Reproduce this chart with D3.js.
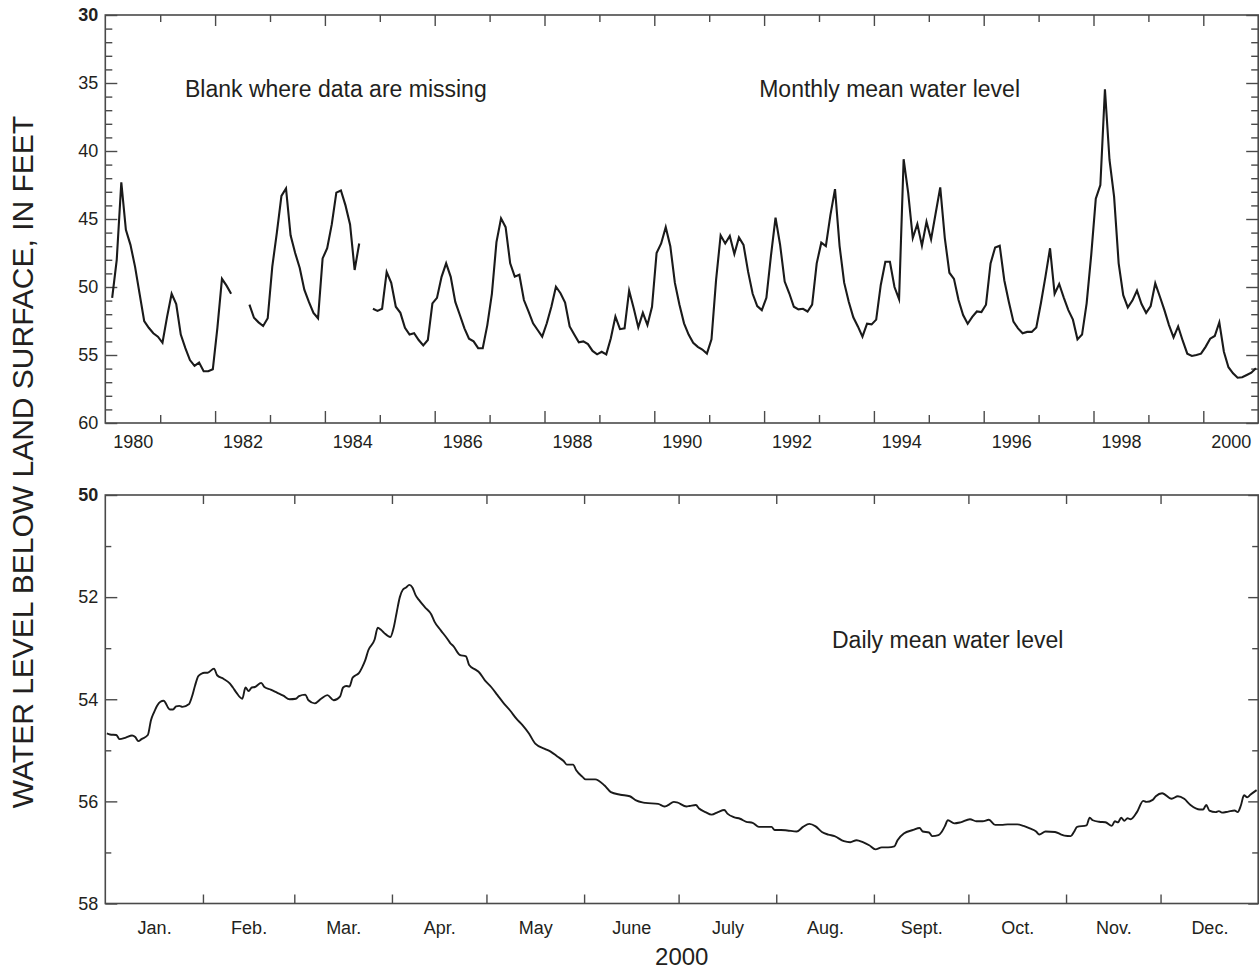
<!DOCTYPE html>
<html>
<head>
<meta charset="utf-8">
<script src="https://cdn.jsdelivr.net/npm/d3@7"></script>
<style>
  body { margin: 0; background: #fff; }
  svg text { font-family: "Liberation Sans", Arial, Helvetica, sans-serif; fill: #231f20; }
</style>
</head>
<body>
<svg id="chart" width="1260" height="976"></svg>
<script>
// ---- Monthly mean water level, Jan 1980 – Dec 2000 (feet below land surface; null = no record)
const monthlyStartYear = 1980;
const monthlyLevel = [
  // 1980
  null, 50.8, 48.0, 42.3, 45.8, 46.9, 48.5, 50.5, 52.5, 53.0, 53.4, 53.65,
  // 1981
  54.1, 52.2, 50.5, 51.25, 53.5, 54.5, 55.37, 55.8, 55.56, 56.2, 56.2, 56.05,
  // 1982
  53.0, 49.4, 49.9, 50.5, null, null, null, 51.3, 52.26, 52.6, 52.87, 52.3,
  // 1983
  48.5, 46.0, 43.3, 42.75, 46.2, 47.5, 48.6, 50.2, 51.1, 51.9, 52.3, 47.9,
  // 1984
  47.15, 45.4, 43.06, 42.9, 44.0, 45.4, 48.75, 46.8, null, null, 51.6, 51.76,
  // 1985
  51.6, 48.9, 49.7, 51.45, 51.9, 53.0, 53.5, 53.4, 53.9, 54.3, 53.9, 51.2,
  // 1986
  50.8, 49.25, 48.26, 49.25, 51.1, 52.06, 53.04, 53.8, 54.0, 54.5, 54.5, 52.8,
  // 1987
  50.5, 46.7, 44.95, 45.6, 48.26, 49.24, 49.1, 50.96, 51.8, 52.67, 53.16, 53.65,
  // 1988
  52.67, 51.45, 49.98, 50.46, 51.15, 52.9, 53.5, 54.07, 54.0, 54.2, 54.7, 54.95,
  // 1989
  54.76, 54.95, 53.77, 52.18, 53.1, 53.04, 50.27, 51.57, 52.97, 51.9, 52.8, 51.45,
  // 1990
  47.5, 46.8, 45.6, 47.0, 49.7, 51.3, 52.67, 53.5, 54.1, 54.4, 54.6, 54.9,
  // 1991
  53.85, 49.5, 46.2, 46.8, 46.25, 47.57, 46.35, 46.9, 48.87, 50.5, 51.4, 51.7,
  // 1992
  50.8, 47.7, 44.9, 46.9, 49.6, 50.46, 51.45, 51.64, 51.6, 51.8, 51.3, 48.26,
  // 1993
  46.74, 46.99, 44.7, 42.8, 46.99, 49.68, 51.08, 52.23, 52.9, 53.65, 52.7, 52.75,
  // 1994
  52.4, 49.85, 48.14, 48.14, 50.0, 50.9, 40.6, 43.1, 46.4, 45.37, 46.96, 45.2,
  // 1995
  46.5, 44.58, 42.67, 46.4, 48.95, 49.4, 50.96, 52.06, 52.7, 52.2, 51.8, 51.85,
  // 1996
  51.3, 48.26, 47.1, 46.96, 49.5, 51.1, 52.55, 53.04, 53.4, 53.3, 53.3, 52.97,
  // 1997
  51.2, 49.24, 47.15, 50.5, 49.78, 50.78, 51.7, 52.4, 53.85, 53.5, 51.2, 47.65,
  // 1998
  43.5, 42.5, 35.46, 40.66, 43.36, 48.26, 50.6, 51.5, 51.0, 50.27, 51.25, 51.9,
  // 1999
  51.4, 49.73, 50.7, 51.7, 52.8, 53.7, 52.9, 53.95, 54.9, 55.07, 55.0, 54.9,
  // 2000
  54.4, 53.8, 53.6, 52.6, 54.76, 55.9, 56.35, 56.67, 56.64, 56.47, 56.3, 55.98
];

// ---- Daily mean water level, 2000 (day of year, 0 = Jan 1)
const dailyDay = [
  0, 1, 3, 4, 6, 8, 9, 10, 11, 13, 14, 15, 16, 17, 18, 20, 21, 22, 23, 24,
  26, 27, 28, 29, 30, 31, 32, 34, 35, 37, 39, 40, 41, 43, 44, 45, 46, 47, 49, 50,
  52, 54, 56, 58, 60, 61, 63, 64, 66, 68, 70, 72, 74, 75, 76, 77, 78, 79, 80, 81,
  82, 83, 85, 86, 87, 88, 90, 91, 92, 93, 94, 95, 96, 97, 98, 99, 101, 103, 104, 106,
  108, 109, 110, 112, 114, 115, 117, 118, 120, 122, 124, 126, 128, 130, 132, 134, 136, 139, 141, 143,
  145, 146, 148, 149, 151, 152, 155, 158, 160, 163, 166, 168, 170, 171, 175, 177, 178, 180, 181, 184,
  185, 187, 188, 190, 192, 194, 196, 197, 199, 201, 203, 205, 207, 208, 211, 212, 214, 216, 219, 221,
  223, 225, 227, 229, 231, 234, 236, 238, 240, 242, 244, 246, 248, 250, 251, 253, 256, 258, 259, 261,
  262, 264, 265, 266, 267, 269, 271, 274, 276, 278, 280, 282, 284, 286, 289, 291, 293, 295, 296, 298,
  301, 303, 304, 306, 307, 308, 311, 312, 313, 315, 317, 319, 320, 321, 322, 323, 324, 325, 327, 329,
  330, 332, 333, 335, 338, 340, 342, 344, 347, 348, 349, 350, 352, 353, 354, 356, 358, 359, 360, 361,
  362, 363, 365
];
const dailyLevel = [
  54.67, 54.69, 54.70, 54.78, 54.75, 54.71, 54.74, 54.82, 54.78, 54.70, 54.41, 54.25, 54.12, 54.05, 54.03, 54.20, 54.20, 54.14, 54.13, 54.15,
  54.10, 53.95, 53.73, 53.55, 53.50, 53.48, 53.48, 53.40, 53.53, 53.60, 53.69, 53.77, 53.86, 53.99, 53.77, 53.84, 53.77, 53.76, 53.68, 53.76,
  53.81, 53.87, 53.93, 54.00, 53.99, 53.94, 53.91, 54.02, 54.08, 53.99, 53.92, 54.02, 53.95, 53.77, 53.74, 53.75, 53.58, 53.53, 53.49, 53.38,
  53.24, 53.04, 52.83, 52.60, 52.64, 52.70, 52.78, 52.61, 52.30, 52.00, 51.85, 51.81, 51.76, 51.81, 51.96, 52.05, 52.20, 52.34, 52.48, 52.65,
  52.81, 52.90, 52.96, 53.13, 53.16, 53.33, 53.42, 53.46, 53.63, 53.76, 53.92, 54.08, 54.22, 54.38, 54.51, 54.67, 54.87, 54.97, 55.03, 55.12,
  55.21, 55.28, 55.28, 55.39, 55.52, 55.57, 55.57, 55.69, 55.82, 55.87, 55.90, 55.98, 56.02, 56.03, 56.05, 56.10, 56.08, 56.01, 56.02, 56.10,
  56.09, 56.07, 56.14, 56.21, 56.26, 56.21, 56.17, 56.24, 56.31, 56.34, 56.40, 56.42, 56.50, 56.50, 56.50, 56.56, 56.56, 56.57, 56.59, 56.50,
  56.44, 56.49, 56.60, 56.65, 56.68, 56.78, 56.80, 56.76, 56.80, 56.86, 56.94, 56.90, 56.90, 56.88, 56.76, 56.63, 56.56, 56.52, 56.59, 56.61,
  56.68, 56.66, 56.60, 56.49, 56.37, 56.43, 56.41, 56.35, 56.39, 56.39, 56.36, 56.46, 56.46, 56.45, 56.45, 56.48, 56.53, 56.59, 56.65, 56.59,
  56.60, 56.65, 56.67, 56.68, 56.60, 56.50, 56.47, 56.32, 56.37, 56.40, 56.41, 56.48, 56.39, 56.41, 56.32, 56.38, 56.33, 56.35, 56.21, 55.99,
  56.01, 55.97, 55.90, 55.84, 55.95, 55.90, 55.95, 56.07, 56.16, 56.16, 56.07, 56.18, 56.21, 56.19, 56.22, 56.20, 56.18, 56.21, 56.08, 55.88,
  55.92, 55.87, 55.78
];

// ---- Axis tick values and labels
const yearLabels = [1980, 1982, 1984, 1986, 1988, 1990, 1992, 1994, 1996, 1998, 2000];
const monthNames = ["Jan.", "Feb.", "Mar.", "Apr.", "May", "June", "July", "Aug.", "Sept.", "Oct.", "Nov.", "Dec."];
const monthLengths2000 = [31, 29, 31, 30, 31, 30, 31, 31, 30, 31, 30, 31];
const topMajorTicks = [30, 35, 40, 45, 50, 55, 60];
const bottomMajorTicks = [50, 52, 54, 56, 58];

// ---- Layout
const plotLeft = 105.3, plotRight = 1258.2;
const topPanel = { top: 15, bottom: 423 };
const botPanel = { top: 495, bottom: 903.5 };
const frameColor = "#4a4a4a";

const svg = d3.select("#chart");

const xTop = d3.scaleLinear().domain([monthlyStartYear, 2001]).range([plotLeft, plotRight]);
const yTop = d3.scaleLinear().domain([30, 60]).range([topPanel.top, topPanel.bottom]);
const xBot = d3.scaleLinear().domain([0, 366]).range([plotLeft, plotRight]);
const yBot = d3.scaleLinear().domain([50, 58]).range([botPanel.top, botPanel.bottom]);

function styleAxis(g, fontSize) {
  g.select(".domain").remove();
  g.selectAll(".tick line").attr("stroke", frameColor).attr("stroke-width", 1.4);
  g.selectAll(".tick text").style("font-size", fontSize + "px").attr("fill", "#231f20");
  g.attr("font-family", null);
}

function tickGroup(axis, transform, fontSize) {
  const g = svg.append("g").attr("transform", transform).call(axis);
  styleAxis(g, fontSize || 18);
  return g;
}

// ================= Top panel: monthly means =================
const allYears = d3.range(1981, 2001);
const evenYears = allYears.filter(y => y % 2 === 0);
const oddYears = allYears.filter(y => y % 2 === 1);
const topMinor = d3.range(30, 61).filter(v => v % 5 !== 0);

// year ticks (inward) on bottom and top edges
tickGroup(d3.axisBottom(xTop).tickValues(evenYears).tickSizeInner(-12).tickSizeOuter(0).tickFormat(""),
  `translate(0,${topPanel.bottom})`);
tickGroup(d3.axisBottom(xTop).tickValues(oddYears).tickSizeInner(-8).tickSizeOuter(0).tickFormat(""),
  `translate(0,${topPanel.bottom})`);
tickGroup(d3.axisTop(xTop).tickValues(evenYears).tickSizeInner(-11).tickSizeOuter(0).tickFormat(""),
  `translate(0,${topPanel.top})`);
tickGroup(d3.axisTop(xTop).tickValues(oddYears).tickSizeInner(-7).tickSizeOuter(0).tickFormat(""),
  `translate(0,${topPanel.top})`);

// year labels centred inside each labelled year
tickGroup(d3.axisBottom(xTop).tickValues(yearLabels.map(y => y + 0.5)).tickSize(0).tickPadding(12)
  .tickFormat(d => String(Math.floor(d))), `translate(0,${topPanel.bottom})`);

// depth ticks
const topLeft = tickGroup(d3.axisLeft(yTop).tickValues(topMajorTicks).tickSizeInner(-12).tickSizeOuter(0).tickPadding(7),
  `translate(${plotLeft},0)`);
topLeft.selectAll(".tick text").filter(d => d === 30).style("font-weight", "bold");
tickGroup(d3.axisLeft(yTop).tickValues(topMinor).tickSizeInner(-7).tickSizeOuter(0).tickFormat(""),
  `translate(${plotLeft},0)`);
tickGroup(d3.axisRight(yTop).tickValues(topMajorTicks).tickSizeInner(-12).tickSizeOuter(0).tickFormat(""),
  `translate(${plotRight},0)`);
tickGroup(d3.axisRight(yTop).tickValues(topMinor).tickSizeInner(-7).tickSizeOuter(0).tickFormat(""),
  `translate(${plotRight},0)`);

svg.append("rect")
  .attr("x", plotLeft).attr("y", topPanel.top)
  .attr("width", plotRight - plotLeft).attr("height", topPanel.bottom - topPanel.top)
  .attr("fill", "none").attr("stroke", frameColor).attr("stroke-width", 1.6);

const monthlyPoints = monthlyLevel.map((v, i) => ({ t: monthlyStartYear + (i + 0.5) / 12, v }));
const monthlyLine = d3.line()
  .defined(d => d.v !== null)
  .x(d => xTop(d.t))
  .y(d => yTop(d.v));

svg.append("path")
  .datum(monthlyPoints)
  .attr("d", monthlyLine)
  .attr("fill", "none")
  .attr("stroke", "#1a1a1a")
  .attr("stroke-width", 2.1)
  .attr("stroke-linejoin", "miter")
  .attr("stroke-miterlimit", 6);

svg.append("text").attr("x", 185).attr("y", 97).style("font-size", "23px")
  .text("Blank where data are missing");
svg.append("text").attr("x", 1020).attr("y", 97).attr("text-anchor", "end").style("font-size", "23px")
  .text("Monthly mean water level");

// ================= Bottom panel: daily means for 2000 =================
const monthStarts = d3.cumsum(monthLengths2000);            // end-of-month day counts
const monthBoundaries = Array.from(monthStarts).slice(0, 11);
const monthCentres = monthLengths2000.map((n, i) => (i === 0 ? 0 : monthStarts[i - 1]) + n / 2);
const botMinor = d3.range(50, 59).filter(v => v % 2 !== 0);

tickGroup(d3.axisBottom(xBot).tickValues(monthBoundaries).tickSizeInner(-9).tickSizeOuter(0).tickFormat(""),
  `translate(0,${botPanel.bottom})`);
tickGroup(d3.axisTop(xBot).tickValues(monthBoundaries).tickSizeInner(-9).tickSizeOuter(0).tickFormat(""),
  `translate(0,${botPanel.top})`);
tickGroup(d3.axisBottom(xBot).tickValues(monthCentres).tickSize(0).tickPadding(18)
  .tickFormat((d, i) => monthNames[i]), `translate(0,${botPanel.bottom})`);

const botLeft = tickGroup(d3.axisLeft(yBot).tickValues(bottomMajorTicks).tickSizeInner(-12).tickSizeOuter(0).tickPadding(7),
  `translate(${plotLeft},0)`);
botLeft.selectAll(".tick text").filter(d => d === 50).style("font-weight", "bold");
tickGroup(d3.axisLeft(yBot).tickValues(botMinor).tickSizeInner(-6).tickSizeOuter(0).tickFormat(""),
  `translate(${plotLeft},0)`);
tickGroup(d3.axisRight(yBot).tickValues(bottomMajorTicks).tickSizeInner(-10).tickSizeOuter(0).tickFormat(""),
  `translate(${plotRight},0)`);
tickGroup(d3.axisRight(yBot).tickValues(botMinor).tickSizeInner(-6).tickSizeOuter(0).tickFormat(""),
  `translate(${plotRight},0)`);

svg.append("rect")
  .attr("x", plotLeft).attr("y", botPanel.top)
  .attr("width", plotRight - plotLeft).attr("height", botPanel.bottom - botPanel.top)
  .attr("fill", "none").attr("stroke", frameColor).attr("stroke-width", 1.6);

const dailyPoints = dailyDay.map((d, i) => ({ d, v: dailyLevel[i] }));
const dailyLine = d3.line()
  .x(p => xBot(p.d + 0.5))
  .y(p => yBot(p.v))
  .curve(d3.curveMonotoneX);

svg.append("path")
  .datum(dailyPoints)
  .attr("d", dailyLine)
  .attr("fill", "none")
  .attr("stroke", "#1a1a1a")
  .attr("stroke-width", 1.9)
  .attr("stroke-linejoin", "round");

svg.append("text").attr("x", 832).attr("y", 648).style("font-size", "23px")
  .text("Daily mean water level");

svg.append("text").attr("x", (plotLeft + plotRight) / 2).attr("y", 965)
  .attr("text-anchor", "middle").style("font-size", "24px")
  .text("2000");

// shared vertical axis title
svg.append("text")
  .attr("transform", "translate(33,462) rotate(-90)")
  .attr("text-anchor", "middle")
  .style("font-size", "30px")
  .text("WATER LEVEL BELOW LAND SURFACE, IN FEET");
</script>
</body>
</html>
